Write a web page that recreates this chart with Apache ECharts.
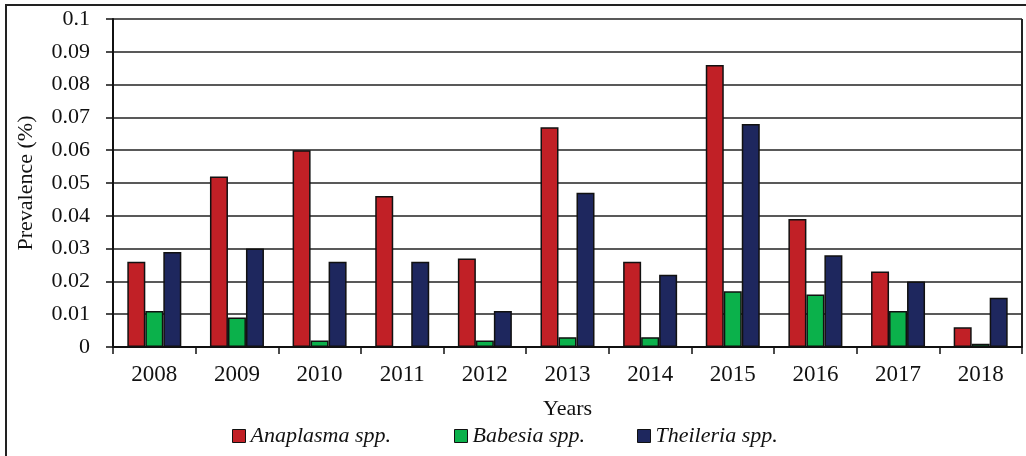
<!DOCTYPE html>
<html lang="en">
<head>
  <meta charset="UTF-8">
  <title>Prevalence by year</title>
  <script src="https://cdn.jsdelivr.net/npm/echarts@6/dist/echarts.min.js"></script>
  <style>
    body { margin: 0; background: #fff; }
    #main { width: 1026px; height: 456px; }
  </style>
</head>
<body>
  <div id="main"></div>
  <script>
  const years = ['2008', '2009', '2010', '2011', '2012', '2013', '2014', '2015', '2016', '2017', '2018'];
  const anaplasma = [0.026, 0.052, 0.060, 0.046, 0.027, 0.067, 0.026, 0.086, 0.039, 0.023, 0.006];
  const babesia = [0.011, 0.009, 0.002, 0, 0.002, 0.003, 0.003, 0.017, 0.016, 0.011, 0.001];
  const theileria = [0.029, 0.030, 0.026, 0.026, 0.011, 0.047, 0.022, 0.068, 0.028, 0.020, 0.015];
  const yTicks = ['0', '0.01', '0.02', '0.03', '0.04', '0.05', '0.06', '0.07', '0.08', '0.09', '0.1'];

  const font = 'Liberation Serif';
  const chart = echarts.init(document.getElementById('main'));

  function bar(name, data, color) {
    return {
      name: name,
      type: 'bar',
      data: data,
      barWidth: 18,
      barGap: '0%',
      itemStyle: { color: color, borderColor: '#111', borderWidth: 1.5 }
    };
  }

  // one legend per entry so each sits where the original places it
  function legendAt(name, left) {
    return {
      top: 420,
      left: left,
      itemWidth: 13,
      itemHeight: 13,
      icon: 'rect',
      textStyle: { fontFamily: font, fontStyle: 'italic', fontSize: 22, color: '#111' },
      data: [{ name: name, itemStyle: { borderColor: '#111', borderWidth: 1 } }]
    };
  }

  chart.setOption({
    animation: false,
    textStyle: { fontFamily: font },
    graphic: [{
      type: 'rect',
      shape: { x: 6, y: 5, width: 1030, height: 470 },
      style: { fill: 'none', stroke: '#222', lineWidth: 2 },
      silent: true
    }, {
      // right edge of the plot area
      type: 'line',
      shape: { x1: 1022, y1: 19, x2: 1022, y2: 347 },
      style: { stroke: '#222', lineWidth: 2 },
      silent: true
    }],
    grid: { left: 113, right: 4, top: 19, bottom: 109, outerBoundsMode: 'none' },
    legend: [
      legendAt('Anaplasma spp.', 227),
      legendAt('Babesia spp.', 449),
      legendAt('Theileria spp.', 632)
    ],
    xAxis: {
      type: 'category',
      data: years,
      name: 'Years',
      nameLocation: 'middle',
      nameGap: 51,
      nameMoveOverlap: false,
      nameTextStyle: { fontFamily: font, fontSize: 22, color: '#111' },
      axisLine: { lineStyle: { color: '#111', width: 2 } },
      axisTick: { show: true, alignWithLabel: false, inside: false, length: 7, lineStyle: { color: '#111', width: 1.5 } },
      axisLabel: { fontFamily: font, fontSize: 23, color: '#111', margin: 16 }
    },
    yAxis: {
      type: 'value',
      min: 0,
      max: 0.1,
      interval: 0.01,
      name: 'Prevalence (%)',
      nameLocation: 'middle',
      nameGap: 76,
      nameMoveOverlap: false,
      nameTextStyle: { fontFamily: font, fontSize: 22, color: '#111' },
      axisLine: { show: true, lineStyle: { color: '#111', width: 2 } },
      axisTick: { show: true, length: 7, lineStyle: { color: '#111', width: 1.5 } },
      axisLabel: {
        fontFamily: font, fontSize: 22, color: '#111', margin: 23,
        formatter: (v) => yTicks[Math.round(v * 100)]
      },
      splitLine: { lineStyle: { color: '#222', width: 1.5 } }
    },
    series: [
      bar('Anaplasma spp.', anaplasma, '#C12026'),
      bar('Babesia spp.', babesia, '#0BB14B'),
      bar('Theileria spp.', theileria, '#1E275E')
    ]
  });
  </script>
</body>
</html>
